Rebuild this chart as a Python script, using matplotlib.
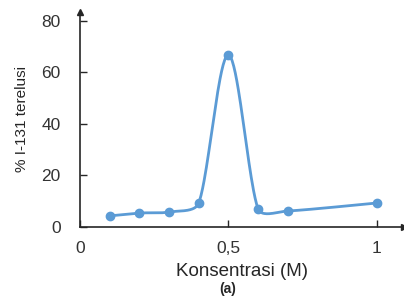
import numpy as np
import matplotlib
matplotlib.use('Agg')
import matplotlib.pyplot as plt

# data
konsentrasi = [0.1, 0.2, 0.3, 0.4, 0.5, 0.6, 0.7, 1.0]
terelusi = [4.3, 5.4, 5.8, 9.3, 66.8, 7.0, 6.2, 9.3]
x_ticks = [0, 0.5, 1]
x_ticklabels = ["0", "0,5", "1"]
y_ticks = [0, 20, 40, 60, 80]

blue = "#5B9BD5"
dark = "#262626"
plt.rcParams['font.family'] = ['Liberation Sans', 'DejaVu Sans']

fig = plt.figure(figsize=(4.04, 2.99), dpi=100)
ax = fig.add_axes([0.198, 0.241, 0.801, 0.719])
ax.set_xlim(0, 1.09)
ax.set_ylim(0, 83.5)


def smooth(xs, ys, n=40, clip=0.33):
    # Excel-like smoothed line: Catmull-Rom beziers built in pixel space,
    # with control arms clipped to a share of the segment length
    pts = ax.transData.transform(np.column_stack([xs, ys]))
    p = np.vstack([pts[0], pts, pts[-1]])
    t = np.linspace(0, 1, n)[:, None]
    out = []
    for i in range(1, len(p) - 2):
        p0, p1, p2, p3 = p[i - 1], p[i], p[i + 1], p[i + 2]
        seg = np.linalg.norm(p2 - p1)
        a1 = (p2 - p0) / 6
        a2 = (p3 - p1) / 6
        for a in (a1, a2):
            ln = np.linalg.norm(a)
            if ln > clip * seg:
                a *= clip * seg / ln
        c1 = p1 + a1
        c2 = p2 - a2
        b = (1 - t) ** 3 * p1 + 3 * (1 - t) ** 2 * t * c1 + 3 * (1 - t) * t ** 2 * c2 + t ** 3 * p2
        out.append(b)
    out = ax.transData.inverted().transform(np.vstack(out))
    return out[:, 0], out[:, 1]


sx, sy = smooth(konsentrasi, terelusi)
ax.plot(sx, sy, color=blue, lw=2)
ax.plot(konsentrasi, terelusi, 'o', color=blue, ms=6)

ax.set_xticks(x_ticks)
ax.set_xticklabels(x_ticklabels)
ax.set_yticks(y_ticks)

for s in ['top', 'right']:
    ax.spines[s].set_visible(False)
for s in ['left', 'bottom']:
    ax.spines[s].set_color(dark)
    ax.spines[s].set_linewidth(1.2)
ax.tick_params(direction='in', length=5, width=1, color=dark,
               labelsize=12.5, labelcolor='#333333')
ax.tick_params(axis='x', pad=10)
ax.tick_params(axis='y', pad=14)

# axis arrows
ax.plot(1, 0, '>', color=dark, ms=4, transform=ax.transAxes, clip_on=False)
ax.plot(0, 1, '^', color=dark, ms=4, transform=ax.transAxes, clip_on=False)

ax.set_xlabel("Konsentrasi (M)", fontsize=13.5, color=dark, labelpad=5)
ax.set_ylabel("% I-131 terelusi", fontsize=11, color=dark, labelpad=9)
fig.text(0.564, 0.02, "(a)", fontsize=10, fontweight='bold', ha='center', color=dark)

fig.savefig("out.png", dpi=100)
